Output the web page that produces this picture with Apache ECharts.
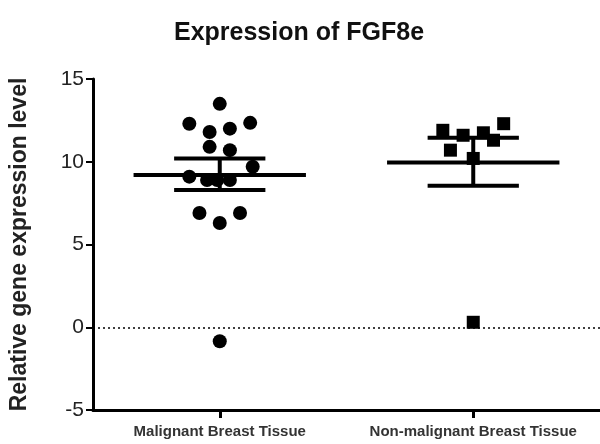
<!DOCTYPE html>
<html>
<head>
<meta charset="utf-8">
<script src="https://cdn.jsdelivr.net/npm/echarts@6/dist/echarts.min.js"></script>
<style>html,body{margin:0;padding:0;background:#fff}#c{width:600px;height:444px}</style>
</head>
<body>
<div id="c"></div>
<script>
const categories = ['Malignant Breast Tissue', 'Non-malignant Breast Tissue'];
const yTicks = [-5, 0, 5, 10, 15];
// [group index + jitter, value]
const malignantPoints = [
  [0.00, 13.5], [-0.12, 12.3], [-0.04, 11.8], [0.04, 12.0], [0.12, 12.35],
  [-0.04, 10.9], [0.04, 10.7], [0.13, 9.7], [-0.12, 9.1],
  [-0.05, 8.9], [-0.01, 8.9], [0.04, 8.9],
  [-0.08, 6.9], [0.00, 6.3], [0.08, 6.9], [0.00, -0.85]
];
const nonMalignantPoints = [
  [0.88, 11.9], [0.96, 11.6], [1.04, 11.75], [1.12, 12.3], [1.08, 11.3],
  [0.91, 10.7], [1.00, 10.2], [1.00, 0.3]
];
// [group index, mean, upper, lower]
const meanSem = [
  [0, 9.2, 10.2, 8.3],
  [1, 9.95, 11.45, 8.55]
];

const chart = echarts.init(document.getElementById('c'));
const font = 'Liberation Sans, Arial, sans-serif';
chart.setOption({
  animation: false,
  backgroundColor: '#fff',
  title: {
    text: 'Expression of FGF8e', left: 294, top: 16, textAlign: 'center',
    textStyle: { fontFamily: font, fontWeight: 'bold', fontSize: 25, color: '#111' }
  },
  grid: { left: 88, right: 0, top: 79, bottom: 34 },
  xAxis: [{
    type: 'category', data: categories, boundaryGap: true,
    axisLine: { onZero: false, lineStyle: { color: '#000', width: 3 } },
    axisTick: { show: true, interval: 0, alignWithLabel: true, length: 8, lineStyle: { color: '#000', width: 3 } },
    axisLabel: { interval: 0, hideOverlap: false, fontFamily: font, fontWeight: 'bold', fontSize: 15, color: '#333', margin: 14 }
  }, {
    type: 'value', min: -0.5, max: 1.5, show: false
  }],
  yAxis: {
    type: 'value', min: -5, max: 15, interval: 5,
    name: 'Relative gene expression level', nameLocation: 'middle', nameGap: 62,
    nameTextStyle: { fontFamily: font, fontWeight: 'bold', fontSize: 23, color: '#222' },
    axisLine: { show: true, onZero: false, lineStyle: { color: '#000', width: 3 } },
    axisTick: { show: true, length: 7, lineStyle: { color: '#000', width: 2 } },
    axisLabel: { fontFamily: font, fontSize: 21, color: '#222', margin: 9,
      formatter: v => yTicks.includes(v) ? String(v) : '' },
    splitLine: { show: false }
  },
  series: [{
    type: 'scatter', xAxisIndex: 1, data: malignantPoints,
    symbol: 'circle', symbolSize: 14, itemStyle: { color: '#000', opacity: 1 },
    markLine: {
      silent: true, symbol: 'none', label: { show: false },
      lineStyle: { color: '#000', type: [2, 3], width: 1.5 },
      data: [{ yAxis: 0 }]
    }
  }, {
    type: 'scatter', xAxisIndex: 1, data: nonMalignantPoints,
    symbol: 'rect', symbolSize: 13, itemStyle: { color: '#000', opacity: 1 }
  }, {
    type: 'custom', xAxisIndex: 1, data: meanSem,
    renderItem: function (params, api) {
      const g = api.value(0), m = api.value(1), hi = api.value(2), lo = api.value(3);
      const pm1 = api.coord([g - 0.34, m]), pm2 = api.coord([g + 0.34, m]);
      const ph1 = api.coord([g - 0.18, hi]), ph2 = api.coord([g + 0.18, hi]);
      const pl1 = api.coord([g - 0.18, lo]), pl2 = api.coord([g + 0.18, lo]);
      const c1 = api.coord([g, hi]), c2 = api.coord([g, lo]);
      const st = { stroke: '#000', lineWidth: 4 };
      return { type: 'group', children: [
        { type: 'line', shape: { x1: pm1[0], y1: pm1[1], x2: pm2[0], y2: pm2[1] }, style: st },
        { type: 'line', shape: { x1: ph1[0], y1: ph1[1], x2: ph2[0], y2: ph2[1] }, style: st },
        { type: 'line', shape: { x1: pl1[0], y1: pl1[1], x2: pl2[0], y2: pl2[1] }, style: st },
        { type: 'line', shape: { x1: c1[0], y1: c1[1], x2: c2[0], y2: c2[1] }, style: st }
      ]};
    }
  }]
});
</script>
</body>
</html>
